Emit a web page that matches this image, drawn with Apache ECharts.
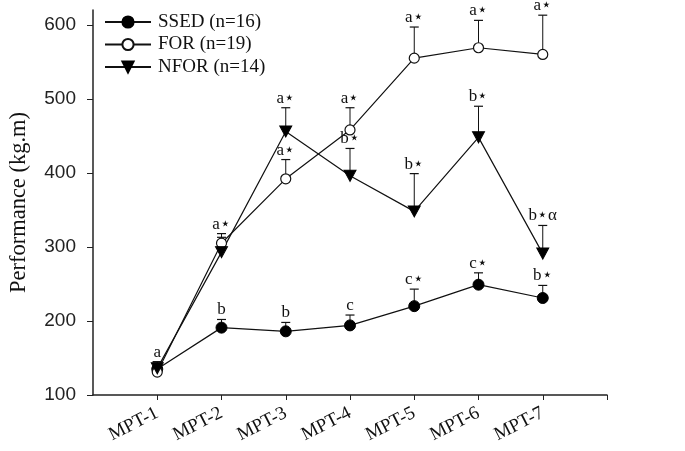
<!DOCTYPE html>
<html><head><meta charset="utf-8">
<script src="https://cdn.jsdelivr.net/npm/echarts@6/dist/echarts.min.js"></script>
<style>html,body{margin:0;padding:0;background:#fff}#c{width:685px;height:451px}</style>
</head><body><div id="c"></div>
<script>
const categories = ['MPT-1','MPT-2','MPT-3','MPT-4','MPT-5','MPT-6','MPT-7'];
const yTicks = [100,200,300,400,500,600];
const ssedVals = [135,191,186,194,220,249,231];
const ssedErr  = [10,11,12,14,23,16,17];
const ssedLbl  = ['a','b','b','c','c⋆','c⋆','b⋆'];
const forVals  = [131,305,392,458,555,569,560];
const forErr   = [12,13,26,30,42,37,53];
const forLbl   = ['','a⋆','a⋆','a⋆','a⋆','a⋆','a⋆'];
const nforVals = [136,293,456,396,348,448,291];
const nforErr  = [9,20,32,37,51,42,38];
const nforLbl  = ['','','a⋆','b⋆','b⋆','b⋆','b⋆α'];

const SERIF = '"Liberation Serif","Times New Roman","DejaVu Serif",serif';

function pts(v){ return v.map((y,i)=>[i+1,y]); }
function errData(v,e){ return v.map((y,i)=>[i+1,y,y+e[i]]); }
function errSeries(v,e,lbl){
  return {
    type:'custom', z:1, silent:true,
    data: errData(v,e),
    renderItem:function(params,api){
      const p = api.coord([api.value(0),api.value(1)]);
      const t = api.coord([api.value(0),api.value(2)]);
      const children = [
        {type:'line',shape:{x1:p[0],y1:p[1],x2:t[0],y2:t[1]},style:{stroke:'#111',lineWidth:1}},
        {type:'line',shape:{x1:t[0]-4.5,y1:t[1],x2:t[0]+4.5,y2:t[1]},style:{stroke:'#111',lineWidth:1.2}}
      ];
      const s = lbl[params.dataIndex];
      if(s){
        children.push({type:'text',x:t[0],y:t[1]-1,style:{text:s,fill:'#111',font:'17px '+SERIF,align:'center',verticalAlign:'bottom'}});
      }
      return {type:'group',children:children};
    }
  };
}

const chart = echarts.init(document.getElementById('c'),null,{renderer:'canvas'});
chart.setOption({
  animation:false,
  backgroundColor:'#fff',
  grid:{left:91,right:78,top:10,bottom:56,containLabel:false},
  legend:{
    orient:'vertical',left:99,top:7,itemWidth:46,itemHeight:14,itemGap:2.5,
    textStyle:{fontFamily:SERIF,fontSize:19,color:'#111',lineHeight:20,padding:[0,0,0,2]},
    data:['SSED (n=16)','FOR (n=19)','NFOR (n=14)']
  },
  xAxis:{
    type:'value',min:0,max:8,interval:1,
    axisLine:{lineStyle:{color:'#222',width:1.5}},
    axisTick:{show:true,length:5,lineStyle:{color:'#222'},customValues:[1,2,3,4,5,6,7,8]},
    axisLabel:{customValues:[1,2,3,4,5,6,7],formatter:v=>categories[v-1]||'',rotate:27,margin:17,
      fontFamily:SERIF,fontSize:19,color:'#111'},
    splitLine:{show:false}
  },
  yAxis:{
    type:'value',min:100,max:620,interval:100,
    name:'Performance (kg.m)',nameLocation:'middle',nameGap:62,
    nameTextStyle:{fontFamily:SERIF,fontSize:22.5,color:'#111'},
    axisLine:{show:true,lineStyle:{color:'#222',width:1.5}},
    axisTick:{show:true,length:6,lineStyle:{color:'#222'},customValues:yTicks},
    axisLabel:{customValues:yTicks,margin:17,fontFamily:'"Liberation Sans",Arial,sans-serif',fontSize:19,color:'#222'},
    splitLine:{show:false}
  },
  series:[
    errSeries(ssedVals,ssedErr,ssedLbl),
    errSeries(forVals,forErr,forLbl),
    errSeries(nforVals,nforErr,nforLbl),
    {name:'SSED (n=16)',type:'line',z:3,data:pts(ssedVals),symbol:'circle',symbolSize:11,
      lineStyle:{color:'#111',width:1.2},itemStyle:{color:'#000',borderColor:'#000',borderWidth:1}},
    {name:'FOR (n=19)',type:'line',z:3,data:pts(forVals),symbol:'circle',symbolSize:10,
      lineStyle:{color:'#111',width:1.2},itemStyle:{color:'#fff',borderColor:'#111',borderWidth:1.2}},
    {name:'NFOR (n=14)',type:'line',z:3,data:pts(nforVals),symbol:'triangle',symbolRotate:180,symbolSize:[12,11],
      lineStyle:{color:'#111',width:1.2},itemStyle:{color:'#000',borderColor:'#000',borderWidth:1}}
  ]
});
</script></body></html>
